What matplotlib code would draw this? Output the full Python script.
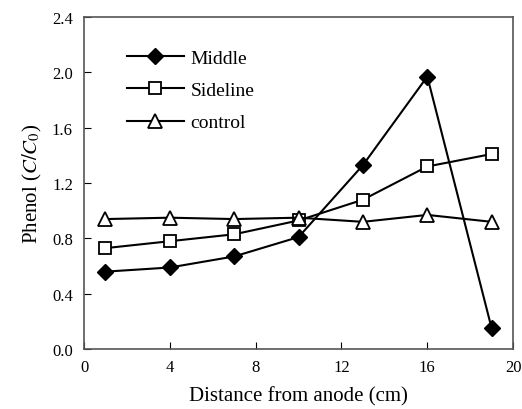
import matplotlib.pyplot as plt

# distance from anode (cm)
distance = [1, 4, 7, 10, 13, 16, 19]

# phenol C/C0
middle = [0.56, 0.59, 0.67, 0.81, 1.33, 1.97, 0.15]
sideline = [0.73, 0.78, 0.83, 0.93, 1.08, 1.32, 1.41]
control = [0.94, 0.95, 0.94, 0.95, 0.92, 0.97, 0.92]

x_ticks = [0, 4, 8, 12, 16, 20]
y_ticks = [0.0, 0.4, 0.8, 1.2, 1.6, 2.0, 2.4]

plt.rcParams['font.family'] = 'Liberation Serif'
plt.rcParams['mathtext.fontset'] = 'stix'

fig = plt.figure(figsize=(5.22, 4.10), dpi=100)
ax = fig.add_axes([0.161, 0.146, 0.822, 0.810])

ax.plot(distance, middle, color='black', lw=1.5, marker='D', markersize=8,
        markerfacecolor='black', label='Middle')
ax.plot(distance, sideline, color='black', lw=1.5, marker='s', markersize=9,
        markerfacecolor='white', markeredgewidth=1.3, label='Sideline')
ax.plot(distance, control, color='black', lw=1.5, marker='^', markersize=10,
        markerfacecolor='white', markeredgewidth=1.3, label='control')

ax.set_xlim(0, 20)
ax.set_ylim(0, 2.4)
ax.set_xticks(x_ticks)
ax.set_yticks(y_ticks)
ax.set_yticklabels([f'{v:.1f}' for v in y_ticks])
ax.tick_params(direction='in', length=5, labelsize=12)
ax.tick_params(axis='x', pad=7)
ax.tick_params(axis='y', pad=8)

for s in ax.spines.values():
    s.set_color('#555555')
    s.set_linewidth(1.2)

ax.set_xlabel('Distance from anode (cm)', fontsize=15, labelpad=8)
ax.set_ylabel(r'Phenol ($C/C_0$)', fontsize=15, labelpad=6)

ax.legend(loc='upper left', bbox_to_anchor=(0.06, 0.955), frameon=False,
          fontsize=14, handlelength=2.9, labelspacing=0.75, handletextpad=0.35)

fig.savefig('out.png', dpi=100)
